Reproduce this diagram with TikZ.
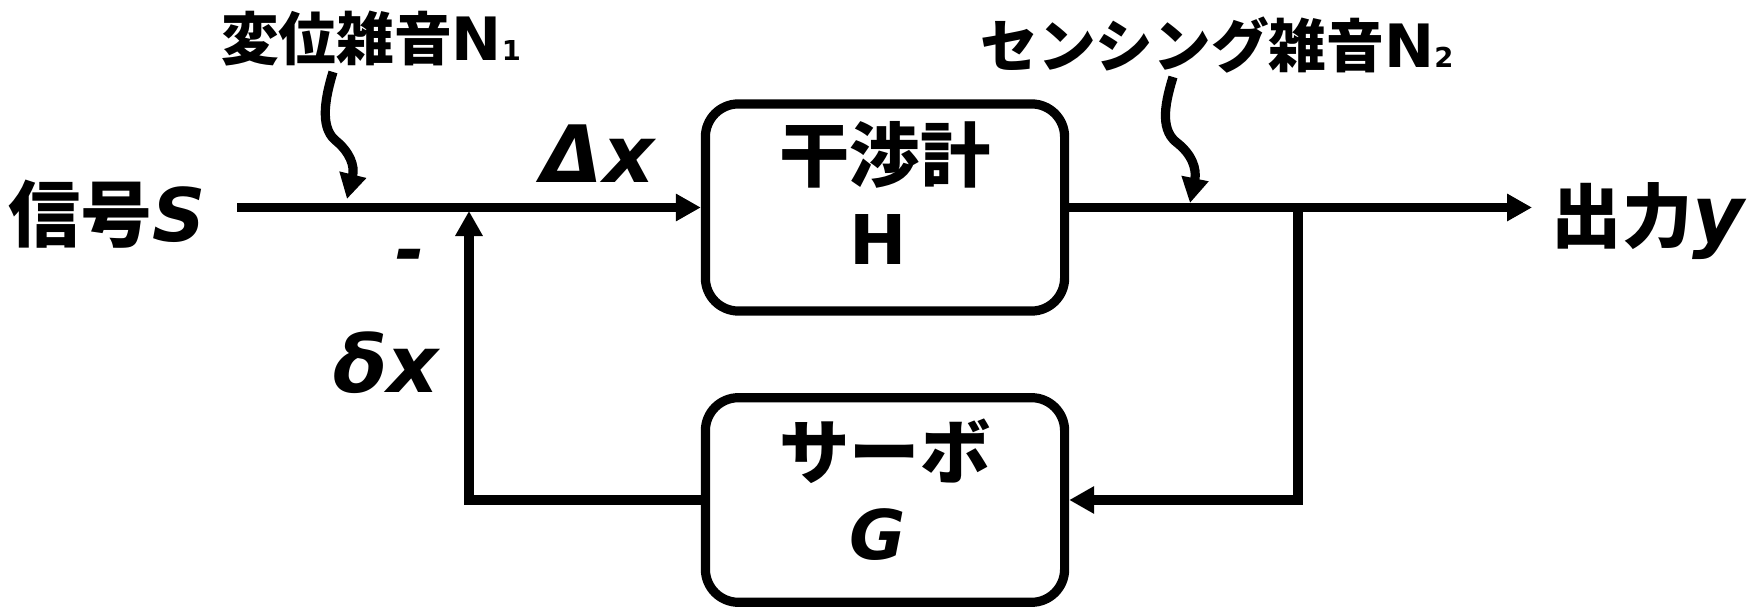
\documentclass[tikz,border=0pt]{standalone}
\usepackage{fontspec}
\setmainfont{DejaVu Sans}[BoldFont={DejaVu Sans Bold},ItalicFont={DejaVu Sans Oblique},BoldItalicFont={DejaVu Sans Bold Oblique}]
\newfontfamily\jpf{Noto Sans CJK JP Black}
\usetikzlibrary{arrows.meta}
\newcommand\fs[1]{\fontsize{#1}{#1}\selectfont}
\newcommand\Lb{\normalfont\bfseries}
\newcommand\Li{\normalfont\bfseries\itshape}
\begin{document}
\begin{tikzpicture}[x=0.01cm,y=-0.01cm,line width=0.092cm,
  box/.style={draw,rounded corners=0.33cm,minimum width=3.59cm,inner sep=0pt},
  arr/.style={-{Triangle[length=0.25cm,width=0.26cm]}},
  lbl/.style={inner sep=0pt,outer sep=0pt}]
\useasboundingbox (0,0) rectangle (1749,607);
% blocks
\node[box,minimum height=2.07cm] (H) at (885,207.5) {};
\node[box,minimum height=2.045cm] (G) at (885,500) {};
\node[lbl] (Ht) at (885,155) {\jpf\fs{20pt}干渉計};
\node[lbl,anchor=base] (Hs) at (878,265) {\Lb\fs{19.5pt}H};
\node[lbl] (Gt) at (885,451) {\jpf\fs{20pt}サーボ};
\node[lbl,anchor=base] (Gs) at (878,560) {\Li\fs{19.5pt}G};
% labels
\node[lbl,anchor=base] (S) at (107,242) {\jpf\fs{20.5pt}信号{\Li\fs{21pt}S}};
\node[lbl,anchor=base] (dX) at (598,183) {\Li\fs{22.5pt}Δx};
\node[lbl,anchor=base] (Y) at (1648,243) {\jpf\fs{20pt}出力{\Li\fs{22.5pt}y}};
\node[lbl,anchor=base] (dx) at (386,393) {\Li\fs{22.5pt}δx};
\node[lbl] (minus) at (410,262) {\Li\fs{20pt}-};
\node[lbl,anchor=base] (N1) at (371,61) {\jpf\fs{16.4pt}変位雑音{\Lb\fs{17pt}N{\fs{7.8pt}1}}};
\node[lbl,anchor=base] (N2) at (1217,68) {\jpf\fs{16.4pt}センシング雑音{\Lb\fs{17pt}N{\fs{7.8pt}2}}};
% connectors
\coordinate (sIn) at (237,207.5);
\coordinate (yOut) at (1532,207.5);
\coordinate (tap) at (1298,207.5);
\coordinate (sum) at (469,211);
\draw[arr] (sIn) -- (H.west);
\draw[arr] (H.east) -- (yOut);
\draw[arr] (tap) |- (G.east);
\draw[arr] (G.west) -| (sum);
% noise arrows
\coordinate (a1s) at (333,72);
\coordinate (a1e) at (347,199);
\draw[arr] (a1s) .. controls (326,95) and (319,126) .. (335,140) .. controls (350,152) and (355,166) .. (a1e);
\coordinate (a2s) at (1173,77);
\coordinate (a2e) at (1190,203);
\draw[arr] (a2s) .. controls (1166,100) and (1159,128) .. (1176,142) .. controls (1192,154) and (1197,169) .. (a2e);
\end{tikzpicture}
\end{document}
